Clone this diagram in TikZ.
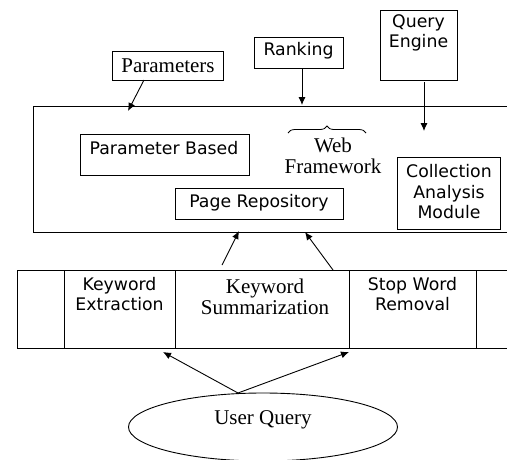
\documentclass[tikz,border=0pt]{standalone}
\usepackage{fontspec}
\setmainfont{Liberation Serif}
\newfontfamily\sansf{DejaVu Sans}
\usetikzlibrary{arrows.meta,decorations.pathreplacing,shapes.geometric}
\tikzset{
  bx/.style={draw, line width=0.9pt, inner sep=0pt},
  sl/.style={font=\sansf\fontsize{17.3}{20.5}\selectfont, align=center, inner sep=0pt},
  rl/.style={font=\fontsize{21}{21}\selectfont, align=center, inner sep=0pt},
  ar/.style={line width=0.9pt, -{Latex[length=8pt,width=7pt]}},
}
\begin{document}
\begin{tikzpicture}[x=1pt,y=-1pt]
\useasboundingbox (0,0) rectangle (507,459);
\clip (0,0) rectangle (507,459);
% main frame
\node[bx, minimum width=487, minimum height=126] (frame) at (276.5,169) {};
% top boxes
\node[bx, minimum width=111, minimum height=29] (params) at (167.5,65.5) {};
\node[rl] (paramsT) at (168,66) {Parameters};
\node[bx, minimum width=89, minimum height=31] (rank) at (298.5,52.5) {};
\node[sl] (rankT) at (298.5,51) {Ranking};
\node[bx, minimum width=77, minimum height=70] (qe) at (418.5,45) {};
\node[sl] (qeT) at (418.5,33) {Query\\Engine};
% inner boxes
\node[bx, minimum width=169, minimum height=41] (pb) at (164.5,154.5) {};
\node[sl] (pbT) at (164,148) {Parameter Based};
\node[bx, minimum width=168, minimum height=31] (pr) at (259,203.5) {};
\node[sl] (prT) at (259,203) {Page Repository};
\node[bx, minimum width=103, minimum height=72] (cam) at (448.5,193) {};
\node[sl] (camT) at (449,192) {Collection\\Analysis\\Module};
% brace and web framework
\coordinate (brL) at (288,133);
\coordinate (brR) at (366,133);
\draw[line width=0.8pt, decorate, decoration={brace, amplitude=7pt}] (brL) -- (brR);
\node[rl] (wf) at (333,156) {Web\\Framework};
% bottom band
\node[bx, minimum width=503, minimum height=78] (band) at (268.5,309) {};
\coordinate (d1t) at (64,270); \coordinate (d1b) at (64,348);
\coordinate (d2t) at (175,270); \coordinate (d2b) at (175,348);
\coordinate (d3t) at (349,270); \coordinate (d3b) at (349,348);
\coordinate (d4t) at (476,270); \coordinate (d4b) at (476,348);
\draw[line width=0.9pt] (d1t) -- (d1b) (d2t) -- (d2b) (d3t) -- (d3b) (d4t) -- (d4b);
\node[sl] (ke) at (119.5,294) {Keyword\\Extraction};
\node[rl] (ks) at (265,297) {Keyword\\Summarization};
\node[sl] (sw) at (412.5,294) {Stop Word\\Removal};
% ellipse
\node[draw, ellipse, line width=0.9pt, minimum width=269, minimum height=68] (uq) at (263,427) {};
\node[rl] (uqT) at (263,420) {User Query};
% arrows
\coordinate (a1s) at (144,80); \coordinate (a1e) at (128,111);
\coordinate (a2s) at (302,68); \coordinate (a2e) at (302,105);
\coordinate (a3s) at (424,82); \coordinate (a3e) at (424,131);
\coordinate (a4s) at (222,265); \coordinate (a4e) at (239,231);
\coordinate (a5s) at (333,270); \coordinate (a5e) at (305,232);
\coordinate (uqtop) at (238,393);
\coordinate (a6e) at (163,352); \coordinate (a7e) at (349,352);
\draw[ar] (a1s) -- (a1e);
\draw[ar] (a2s) -- (a2e);
\draw[ar] (a3s) -- (a3e);
\draw[ar] (a4s) -- (a4e);
\draw[ar] (a5s) -- (a5e);
\draw[ar] (uqtop) -- (a6e);
\draw[ar] (uqtop) -- (a7e);
\end{tikzpicture}
\end{document}
